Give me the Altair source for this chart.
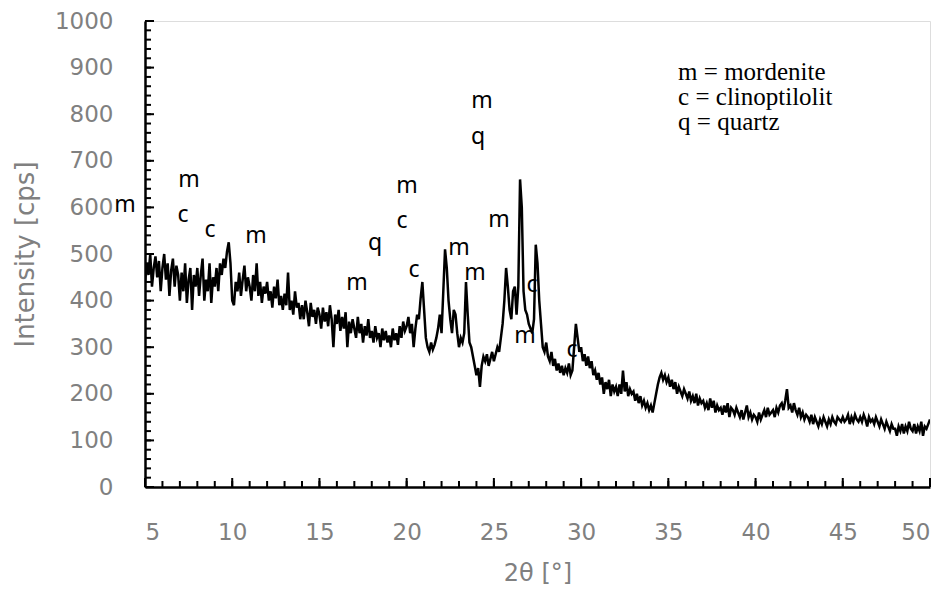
import altair as alt
import pandas as pd

# 2-theta grid: 5.0 .. 50.0 in 0.1 steps (one row per degree)
rows = [
    [440, 480, 455, 500, 430, 470, 495, 450, 485, 420],  # 5
    [470, 500, 445, 480, 410, 465, 490, 430, 475, 455],  # 6
    [400, 460, 420, 480, 395, 445, 470, 380, 455, 430],  # 7
    [470, 410, 455, 490, 400, 445, 420, 480, 395, 450],  # 8
    [430, 470, 420, 480, 455, 490, 470, 505, 525, 480],  # 9
    [400, 390, 440, 420, 460, 410, 445, 475, 420, 450],  # 10
    [430, 400, 455, 420, 480, 410, 440, 395, 430, 415],  # 11
    [440, 400, 420, 385, 430, 405, 445, 390, 410, 380],  # 12
    [415, 390, 460, 380, 400, 370, 420, 385, 395, 360],  # 13
    [390, 360, 400, 375, 345, 395, 365, 380, 350, 385],  # 14
    [370, 340, 385, 355, 375, 345, 390, 360, 300, 370],  # 15
    [350, 380, 335, 365, 340, 375, 300, 355, 330, 360],  # 16
    [340, 320, 365, 330, 350, 310, 345, 325, 360, 320],  # 17
    [335, 310, 345, 320, 330, 300, 340, 315, 335, 310],  # 18
    [325, 300, 340, 315, 330, 305, 345, 320, 355, 335],  # 19
    [345, 365, 330, 350, 300, 340, 370, 360, 405, 440],  # 20
    [380, 320, 300, 290, 310, 295, 305, 320, 340, 370],  # 21
    [330, 420, 510, 470, 400, 360, 330, 380, 370, 330],  # 22
    [300, 320, 310, 330, 440, 370, 310, 300, 280, 260],  # 23
    [240, 255, 215, 260, 280, 270, 285, 260, 275, 290],  # 24
    [270, 285, 300, 290, 320, 350, 400, 470, 430, 380],  # 25
    [360, 420, 430, 370, 430, 660, 600, 420, 380, 370],  # 26
    [350, 340, 330, 360, 520, 480, 400, 350, 300, 290],  # 27
    [310, 280, 270, 290, 260, 275, 250, 265, 245, 260],  # 28
    [240, 255, 245, 265, 240, 250, 300, 350, 320, 290],  # 29
    [300, 270, 285, 260, 280, 255, 270, 240, 250, 230],  # 30
    [245, 220, 235, 200, 225, 210, 230, 195, 220, 205],  # 31
    [215, 195, 220, 200, 250, 205, 225, 195, 210, 200],  # 32
    [205, 185, 200, 180, 195, 175, 185, 170, 180, 165],  # 33
    [175, 160, 180, 200, 220, 235, 245, 230, 240, 225],  # 34
    [235, 215, 230, 210, 225, 200, 215, 205, 195, 210],  # 35
    [200, 190, 205, 185, 195, 180, 200, 175, 190, 180],  # 36
    [185, 170, 180, 165, 190, 170, 185, 160, 175, 165],  # 37
    [170, 155, 175, 160, 180, 150, 170, 165, 155, 170],  # 38
    [160, 150, 165, 145, 160, 175, 150, 160, 145, 155],  # 39
    [150, 140, 160, 145, 155, 165, 150, 170, 155, 160],  # 40
    [165, 150, 170, 160, 175, 180, 165, 185, 210, 170],  # 41
    [175, 160, 180, 165, 155, 170, 150, 160, 145, 155],  # 42
    [150, 140, 155, 135, 150, 140, 130, 145, 135, 150],  # 43
    [140, 130, 145, 135, 150, 140, 135, 150, 145, 140],  # 44
    [150, 140, 145, 155, 135, 150, 140, 155, 145, 140],  # 45
    [150, 140, 155, 145, 130, 150, 140, 145, 135, 150],  # 46
    [140, 130, 145, 135, 125, 140, 130, 120, 135, 125],  # 47
    [125, 110, 130, 120, 135, 115, 130, 120, 140, 125],  # 48
    [120, 135, 115, 130, 120, 140, 110, 130, 125, 135],  # 49
]
last_value = 145  # at 50.0

intensity = [v for r in rows for v in r] + [last_value]
two_theta = [round(5 + i * 0.1, 1) for i in range(len(intensity))]

x_major = [5, 10, 15, 20, 25, 30, 35, 40, 45, 50]
x_minor = list(range(5, 51))
y_major = [0, 100, 200, 300, 400, 500, 600, 700, 800, 900, 1000]
y_minor = list(range(0, 1001, 20))

ann_text = ["m", "m", "c", "c", "m", "m", "q", "m", "c", "c", "m", "m", "m",
            "m", "q", "c", "m", "c"]
ann_x = [3.85, 7.52, 7.18, 8.73, 11.36, 17.16, 18.19, 20.02, 19.74, 20.42, 23.0,
         23.92, 25.3, 24.32, 24.1, 27.19, 26.79, 29.48]
ann_y = [605, 659, 584, 551, 539, 438, 524, 646, 571, 466, 513,
         459, 573, 828, 751, 433, 324, 294]

legend_lines = ["m = mordenite", "c = clinoptilolit", "q = quartz"]
legend_x = [35.56, 35.56, 35.56]
legend_y = [891, 837, 783]

W, H = 785, 466
grey = "#808080"
axis_font = "DejaVu Sans"

xs = alt.Scale(domain=[5, 50], nice=False, zero=False)
ys = alt.Scale(domain=[0, 1000], nice=False)

df = pd.DataFrame({"x": two_theta, "y": intensity})

line = alt.Chart(df).mark_line(color="black", strokeWidth=2.5, clip=True).encode(
    x=alt.X("x:Q", scale=xs, title="2θ [°]",
            axis=alt.Axis(values=x_major, ticks=False, tickSize=0, grid=False,
                          labelPadding=34, titlePadding=17, format="d",
                          labelFontSize=23, titleFontSize=24,
                          labelColor=grey, titleColor=grey,
                          labelFont=axis_font, titleFont=axis_font,
                          titleFontWeight="normal",
                          domainColor="black", domainWidth=2.5)),
    y=alt.Y("y:Q", scale=ys, title="Intensity [cps]",
            axis=alt.Axis(values=y_major, ticks=False, tickSize=0, grid=False,
                          labelPadding=32, titlePadding=16, format="d",
                          labelFontSize=23, titleFontSize=26,
                          labelColor=grey, titleColor=grey,
                          labelFont=axis_font, titleFont=axis_font,
                          titleFontWeight="normal",
                          domainColor="black", domainWidth=2.5)),
)

xmaj = alt.Chart(pd.DataFrame({"t": x_major})).mark_rule(color="black", strokeWidth=2).encode(
    x=alt.X("t:Q", scale=xs), y=alt.value(H), y2=alt.value(H - 9))
xmin = alt.Chart(pd.DataFrame({"t": x_minor})).mark_rule(color="black", strokeWidth=2).encode(
    x=alt.X("t:Q", scale=xs), y=alt.value(H), y2=alt.value(H - 6))
ymaj = alt.Chart(pd.DataFrame({"t": y_major})).mark_rule(color="black", strokeWidth=2).encode(
    y=alt.Y("t:Q", scale=ys), x=alt.value(0), x2=alt.value(9))
ymin = alt.Chart(pd.DataFrame({"t": y_minor})).mark_rule(color="black", strokeWidth=2).encode(
    y=alt.Y("t:Q", scale=ys), x=alt.value(0), x2=alt.value(6))

ann = alt.Chart(pd.DataFrame({"x": ann_x, "y": ann_y, "t": ann_text})).mark_text(
    font="Noto Sans", fontSize=23, color="black", align="center", baseline="middle"
).encode(x=alt.X("x:Q", scale=xs), y=alt.Y("y:Q", scale=ys), text="t:N")

leg = alt.Chart(pd.DataFrame({"x": legend_x, "y": legend_y, "t": legend_lines})).mark_text(
    font="Liberation Serif", fontSize=25, color="black", align="left", baseline="middle"
).encode(x=alt.X("x:Q", scale=xs), y=alt.Y("y:Q", scale=ys), text="t:N")

chart = alt.layer(line, xmin, xmaj, ymin, ymaj, ann, leg).properties(
    width=W, height=H, padding={"left": 4, "top": 2, "right": 5, "bottom": 2}
).configure_view(stroke="#222", strokeWidth=2).configure(background="white")

chart.save("out.html", embed_options={"renderer": "svg", "actions": False})
